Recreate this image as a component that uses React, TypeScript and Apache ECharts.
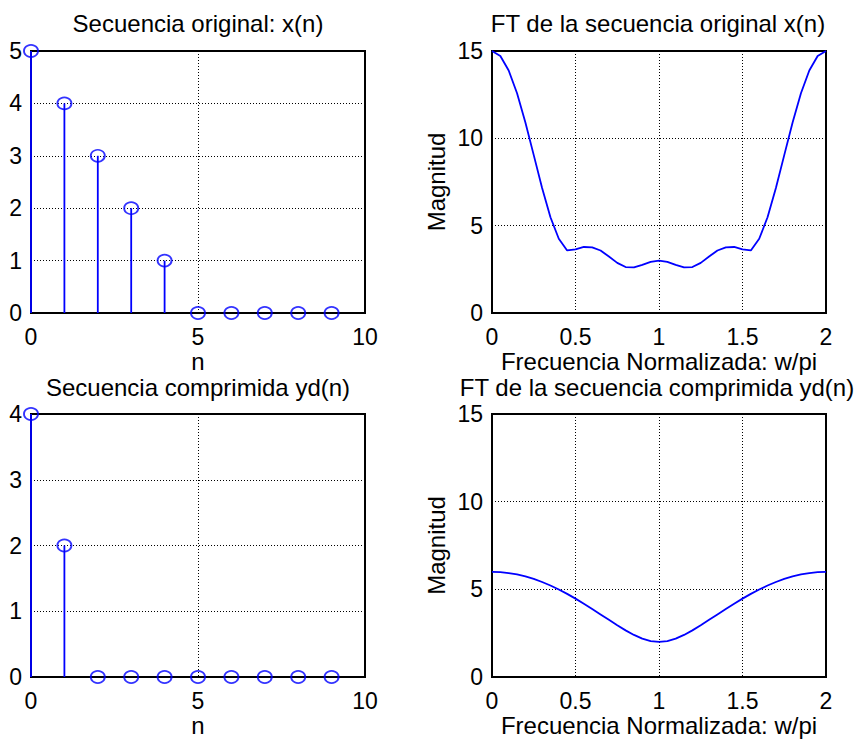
import React, { useEffect, useRef } from 'react';
import * as echarts from 'echarts';

// ---- data ----
const nIndex = [0, 1, 2, 3, 4, 5, 6, 7, 8, 9];
const xSeq = [5, 4, 3, 2, 1, 0, 0, 0, 0, 0];
const ydSeq = [4, 2, 0, 0, 0, 0, 0, 0, 0, 0];

const wNorm = [
  0, 0.05, 0.1, 0.15, 0.2, 0.25, 0.3, 0.35, 0.4, 0.45, 0.5, 0.55, 0.6, 0.65, 0.7, 0.75, 0.8, 0.85, 0.9, 0.95,
  1, 1.05, 1.1, 1.15, 1.2, 1.25, 1.3, 1.35, 1.4, 1.45, 1.5, 1.55, 1.6, 1.65, 1.7, 1.75, 1.8, 1.85, 1.9, 1.95, 2,
];
const magX = [
  15, 14.71, 13.88, 12.58, 10.91, 9.04, 7.16, 5.48, 4.25, 3.58, 3.64, 3.78, 3.76, 3.58, 3.23, 2.87, 2.63, 2.61, 2.76, 2.93,
  3.0, 2.93, 2.76, 2.61, 2.63, 2.87, 3.23, 3.58, 3.76, 3.78, 3.64, 3.58, 4.25, 5.48, 7.16, 9.04, 10.91, 12.58, 13.88, 14.71, 15,
];
const magYd = [
  6.0, 5.98, 5.93, 5.85, 5.74, 5.6, 5.42, 5.22, 4.99, 4.74, 4.47, 4.18, 3.88, 3.57, 3.26, 2.95, 2.66, 2.4, 2.19, 2.05,
  2.0, 2.05, 2.19, 2.4, 2.66, 2.95, 3.26, 3.57, 3.88, 4.18, 4.47, 4.74, 4.99, 5.22, 5.42, 5.6, 5.74, 5.85, 5.93, 5.98, 6.0,
];

const titles = [
  'Secuencia original: x(n)',
  'FT de la secuencia original x(n)',
  'Secuencia comprimida yd(n)',
  'FT de la secuencia comprimida yd(n)',
];
const xNames = ['n', 'Frecuencia Normalizada: w/pi', 'n', 'Frecuencia Normalizada: w/pi'];
const yNames = ['', 'Magnitud', '', 'Magnitud'];

const BLUE = '#0000ff';
const FONT = '"Liberation Sans", Arial, Helvetica, sans-serif';

export default function App() {
  const ref = useRef<HTMLDivElement>(null);
  useEffect(() => {
    if (!ref.current) return;
    const chart = echarts.init(ref.current, undefined, { renderer: 'svg' });

    const grids = [
      { left: 31, top: 51, width: 334, height: 262 },
      { left: 492, top: 51, width: 334, height: 262 },
      { left: 31, top: 414, width: 334, height: 263 },
      { left: 492, top: 414, width: 334, height: 263 },
    ].map((g) => ({ ...g, show: true, borderColor: '#000', borderWidth: 2, backgroundColor: 'rgba(0,0,0,0)' }));

    const xRanges = [
      [0, 10, 5],
      [0, 2, 0.5],
      [0, 10, 5],
      [0, 2, 0.5],
    ];
    const yRanges = [
      [0, 5, 1],
      [0, 15, 5],
      [0, 4, 1],
      [0, 15, 5],
    ];

    const splitLine = { show: true, lineStyle: { color: '#000', type: [1, 2] as any, width: 1 } };

    const xAxis = xRanges.map((r, i) => ({
      type: 'value',
      gridIndex: i,
      min: r[0],
      max: r[1],
      interval: r[2],
      name: xNames[i],
      nameLocation: 'middle',
      nameGap: 36,
      nameTextStyle: { fontSize: 24, color: '#000', fontFamily: FONT, lineHeight: 24 },
      axisLine: { show: true, onZero: false, lineStyle: { color: '#000', width: 2 } },
      axisTick: { show: false },
      axisLabel: { fontSize: 23, color: '#000', margin: 12, fontFamily: FONT, showMinLabel: true, showMaxLabel: true },
      splitLine,
    }));

    const yAxis = yRanges.map((r, i) => ({
      type: 'value',
      gridIndex: i,
      min: r[0],
      max: r[1],
      interval: r[2],
      name: yNames[i],
      nameLocation: 'middle',
      nameGap: 44,
      nameTextStyle: { fontSize: 24, color: '#000', fontFamily: FONT },
      axisLine: { show: true, onZero: false, lineStyle: { color: '#000', width: 2 } },
      axisTick: { show: false },
      axisLabel: { fontSize: 23, color: '#000', margin: 9, fontFamily: FONT, showMinLabel: true, showMaxLabel: true },
      splitLine,
    }));

    const stemRender = (params: any, api: any) => {
      const p0 = api.coord([api.value(0), 0]);
      const p1 = api.coord([api.value(0), api.value(1)]);
      return {
        type: 'line',
        shape: { x1: p0[0], y1: p0[1], x2: p1[0], y2: p1[1] },
        style: { stroke: BLUE, lineWidth: 1.8 },
      };
    };

    const stemSeries = (gi: number, vals: number[]) => {
      const data = nIndex.map((n, k) => [n, vals[k]]);
      return [
        {
          type: 'custom',
          xAxisIndex: gi,
          yAxisIndex: gi,
          data,
          renderItem: stemRender,
          clip: false,
          z: 3,
        },
        {
          type: 'scatter',
          xAxisIndex: gi,
          yAxisIndex: gi,
          data,
          symbol: 'circle',
          symbolSize: [14, 12],
          itemStyle: { color: 'rgba(0,0,0,0)', borderColor: BLUE, borderWidth: 1.8 },
          clip: false,
          z: 4,
        },
      ];
    };

    const lineSeries = (gi: number, vals: number[]) => ({
      type: 'line',
      xAxisIndex: gi,
      yAxisIndex: gi,
      data: wNorm.map((w, k) => [w, vals[k]]),
      showSymbol: false,
      lineStyle: { color: BLUE, width: 1.8 },
      clip: false,
      z: 3,
    });

    const titlePos = [
      [198, 23],
      [658, 23],
      [198, 387],
      [657, 387],
    ];

    chart.setOption({
      animation: false,
      backgroundColor: '#ffffff',
      grid: grids,
      xAxis,
      yAxis,
      series: [...stemSeries(0, xSeq), lineSeries(1, magX), ...stemSeries(2, ydSeq), lineSeries(3, magYd)],
      graphic: titles.map((t, i) => ({
        type: 'text',
        x: titlePos[i][0],
        y: titlePos[i][1],
        z: 10,
        style: {
          text: t,
          fill: '#000',
          font: `24px ${FONT}`,
          lineHeight: 24,
          align: 'center',
          verticalAlign: 'middle',
          textAlign: 'center',
          textVerticalAlign: 'middle',
        },
      })),
    } as any);

    return () => chart.dispose();
  }, []);

  return (
    <div
      ref={ref}
      style={{ position: 'absolute', left: 0, top: 0, width: 857, height: 743, background: '#fff' }}
    />
  );
}
